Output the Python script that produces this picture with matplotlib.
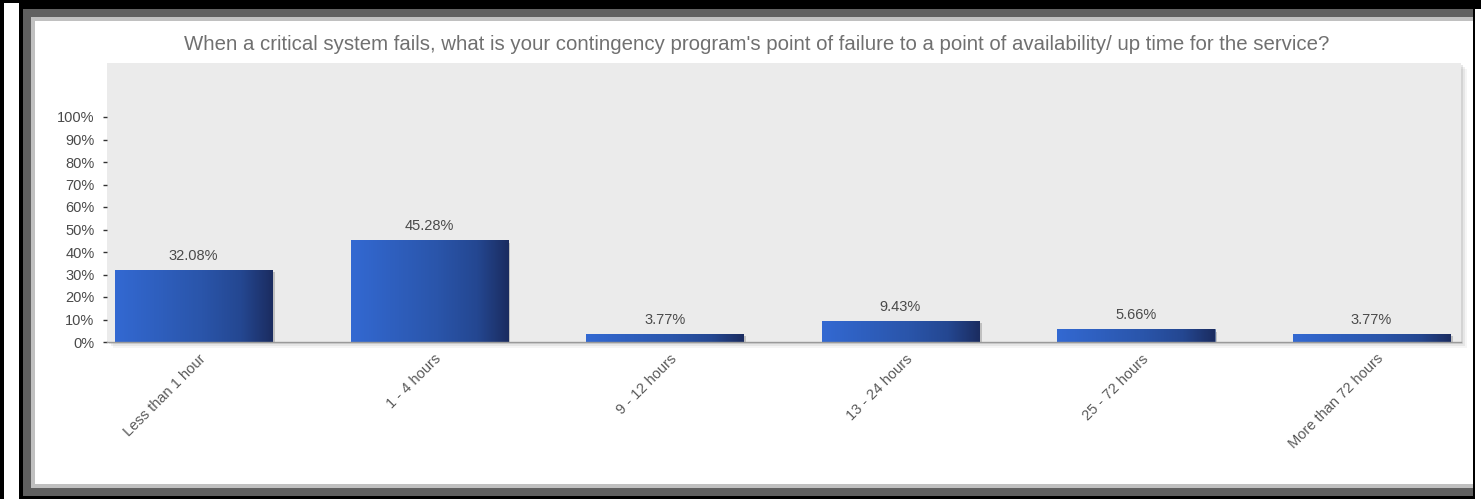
import matplotlib
matplotlib.use("Agg")
import matplotlib.pyplot as plt
import numpy as np
from matplotlib.patches import Rectangle
from matplotlib.colors import LinearSegmentedColormap
from matplotlib import transforms

plt.rcParams['font.family'] = ['Liberation Sans', 'DejaVu Sans']

# data
categories = ["Less than 1 hour", "1 - 4 hours", "9 - 12 hours",
              "13 - 24 hours", "25 - 72 hours", "More than 72 hours"]
values = [32.08, 45.28, 3.77, 9.43, 5.66, 3.77]
yticks = [0, 10, 20, 30, 40, 50, 60, 70, 80, 90, 100]
title = ("When a critical system fails, what is your contingency program's "
         "point of failure to a point of availability/ up time for the service?")

W, H = 1481, 499
fig = plt.figure(figsize=(W / 100, H / 100), dpi=100)
fig.patch.set_facecolor("white")


def px_rect(x0, y0, x1, y1, color, z=-10, alpha=1.0):
    # rectangle in pixel coords (origin top-left)
    r = Rectangle((x0 / W, (H - y1) / H), (x1 - x0) / W, (y1 - y0) / H,
                  transform=fig.transFigure, facecolor=color, edgecolor="none",
                  zorder=z, alpha=alpha)
    fig.add_artist(r)


# frame around the chart
px_rect(0, 0, W, H, "black")
px_rect(4, 3, 19, H, "white")
px_rect(1475, 9, W, H, "white")
px_rect(23, 9, 1473, 496, "#606060")
px_rect(31, 17, 1473, 488, "#c0c0c0")
px_rect(35, 21, 1473, 484, "white")

# plot area
ax_l, ax_r, ax_t, ax_b = 107, 1461, 63, 342
# soft shadow of plot area
for k, a in zip([6, 4, 2], [0.08, 0.12, 0.18]):
    px_rect(ax_l + k, ax_t + k, ax_r + k, ax_b + k, "#808080", z=-5, alpha=a)

ax = fig.add_axes([ax_l / W, (H - ax_b) / H, (ax_r - ax_l) / W, (ax_b - ax_t) / H])
ax.set_facecolor("#ebebeb")
ax.set_zorder(1)

x = np.arange(len(categories))
bw = 0.668
ax.set_xlim(-0.368, 5.38)
ax.set_ylim(0, 124)

# bar shadows
sh = transforms.offset_copy(ax.transData, fig=fig, x=2.5, y=-2.5, units='dots')
ax.bar(x, values, width=bw, color="#707070", alpha=0.35, transform=sh, zorder=1)

cmap = LinearSegmentedColormap.from_list(
    "barblue", [(0.0, "#3369d2"), (0.55, "#2a55aa"), (0.8, "#244791"), (1.0, "#1b2c60")])
grad = np.linspace(0, 1, 256).reshape(1, -1)

bars = ax.bar(x, values, width=bw, color="#2a55aa", edgecolor="#5a6f9a",
              linewidth=0.6, zorder=2)
for b in bars:
    im = ax.imshow(grad, cmap=cmap, aspect="auto", zorder=2.5,
                   extent=[b.get_x(), b.get_x() + b.get_width(), 0, b.get_height()])
    im.set_clip_path(b)

for xi, v in zip(x, values):
    ax.annotate(f"{v:.2f}%", (xi, v), xytext=(0, 5), textcoords="offset points",
                ha="center", va="bottom", fontsize=10.5, color="#4a4a4a")

ax.set_yticks(yticks)
ax.set_yticklabels([f"{t}%" for t in yticks])
ax.set_xticks(x)
ax.set_xticklabels(categories, rotation=45, ha="right", va="top", rotation_mode="anchor")
ax.tick_params(axis="y", length=3, width=1, color="#333333", pad=6,
               labelsize=10.5, labelcolor="#4a4a4a")
ax.tick_params(axis="x", length=0, pad=7, labelsize=10.5, labelcolor="#5a5a5a")
off = transforms.ScaledTranslation(5 / 100, 0, fig.dpi_scale_trans)
for lab in ax.get_xticklabels():
    lab.set_transform(lab.get_transform() + off)

for s in ["top", "left", "right"]:
    ax.spines[s].set_visible(False)
ax.spines["bottom"].set_color("#9a9a9a")
ax.spines["bottom"].set_linewidth(1.0)

fig.text(757 / W, (H - 44) / H, title, ha="center", va="center",
         fontsize=14.7, color="#707070")

fig.savefig("out.png", dpi=100)
